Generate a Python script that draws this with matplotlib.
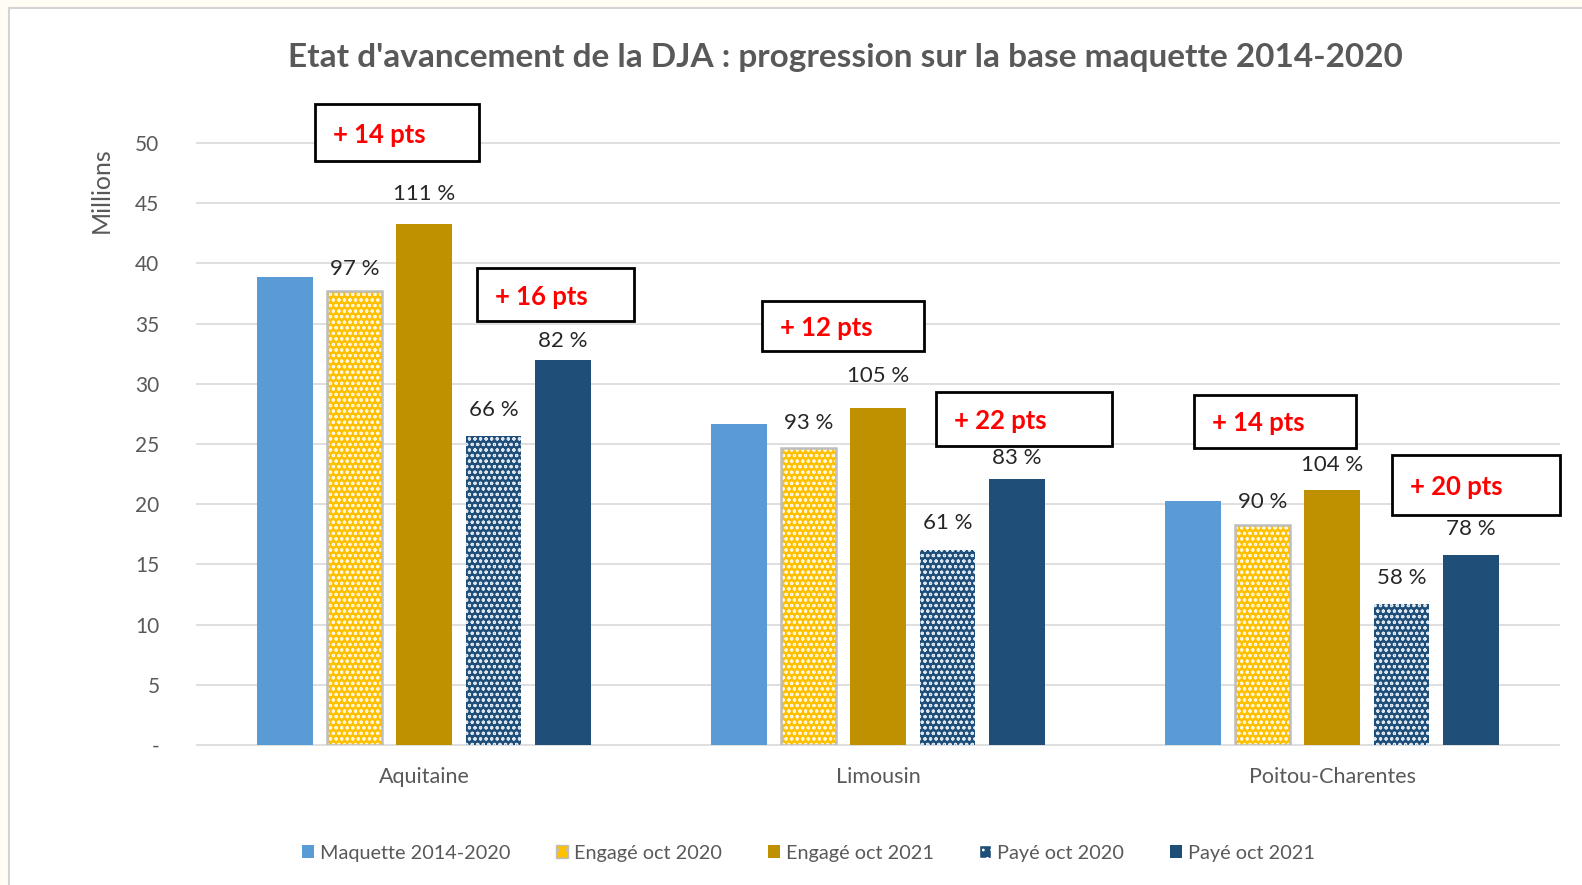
import matplotlib
matplotlib.use("Agg")
import matplotlib.pyplot as plt
import numpy as np
from matplotlib.patches import Rectangle, Patch

# data
regions = ["Aquitaine", "Limousin", "Poitou-Charentes"]
series = ["Maquette 2014-2020", "Engagé oct 2020", "Engagé oct 2021",
          "Payé oct 2020", "Payé oct 2021"]
maquette = [38.9, 26.7, 20.3]
engage_2020 = [37.7, 24.7, 18.3]
engage_2021 = [43.3, 28.0, 21.2]
paye_2020 = [25.7, 16.2, 11.7]
paye_2021 = [32.0, 22.1, 15.8]

pct_engage_2020 = ["97 %", "93 %", "90 %"]
pct_engage_2021 = ["111 %", "105 %", "104 %"]
pct_paye_2020 = ["66 %", "61 %", "58 %"]
pct_paye_2021 = ["82 %", "83 %", "78 %"]

pts_labels = ["+ 14 pts", "+ 16 pts", "+ 12 pts", "+ 22 pts", "+ 14 pts", "+ 20 pts"]
yticks = [0, 5, 10, 15, 20, 25, 30, 35, 40, 45, 50]
ytick_labels = ["-", "5", "10", "15", "20", "25", "30", "35", "40", "45", "50"]

# layout: label offsets above the bars (points), one per region
off_engage_2020 = [8.4, 10.6, 9.1]
off_engage_2021 = [14.2, 15.6, 10.6]
off_paye_2020 = [11.3, 12.0, 11.3]
off_paye_2021 = [6.3, 7.7, 11.3]

# layout of the "pts" boxes (x0, x1 in category units, y0, y1 in data units)
pts_boxes = [(-0.24, 0.122, 48.5, 53.2),
             (0.116, 0.462, 35.2, 39.6),
             (0.744, 1.102, 32.7, 36.9),
             (1.127, 1.516, 24.8, 29.3),
             (1.696, 2.053, 24.7, 29.1),
             (2.131, 2.502, 19.1, 24.1)]

plt.rcParams["font.family"] = ["Lato", "DejaVu Sans"]
plt.rcParams["hatch.linewidth"] = 0.8

fig = plt.figure(figsize=(15.82, 8.85), dpi=100, facecolor="#FFFCF4")
# white chart frame
fig.patches.append(Rectangle((9 / 1582, -0.1), 1.2, (885 - 8) / 885 + 0.1,
                             transform=fig.transFigure, facecolor="white",
                             edgecolor="#D4D4D4", linewidth=1.5, zorder=-5))

ax = fig.add_axes([0.1245, 0.1582, 0.861, 0.6802])
ax.set_zorder(2)
ax.set_facecolor("none")

x = np.arange(len(regions))
pitch = 0.153
width = 0.122
grey_txt = "#595959"

ax.bar(x - 2 * pitch, maquette, width, color="#5B9BD5", zorder=3)
ax.bar(x - pitch, engage_2020, width, color="#FFC000", edgecolor="#FFF6D8",
       hatch="ooo", linewidth=0, zorder=3)
ax.bar(x - pitch, engage_2020, width, fill=False, edgecolor="#BDBDBD",
       linewidth=1.8, zorder=4)
ax.bar(x, engage_2021, width, color="#BF9000", zorder=3)
ax.bar(x + pitch, paye_2020, width, color="#1F4E79", edgecolor="#DCE6F0",
       hatch="ooo", linewidth=0, zorder=3)
ax.bar(x + 2 * pitch, paye_2021, width, color="#1F4E79", zorder=3)

# percentage labels
for off, vals, labs, offs in [(-pitch, engage_2020, pct_engage_2020, off_engage_2020),
                              (0, engage_2021, pct_engage_2021, off_engage_2021),
                              (pitch, paye_2020, pct_paye_2020, off_paye_2020),
                              (2 * pitch, paye_2021, pct_paye_2021, off_paye_2021)]:
    for xi, v, lab, dy in zip(x, vals, labs, offs):
        ax.annotate(lab, (xi + off, v), xytext=(0, dy), textcoords="offset points",
                    ha="center", va="bottom", fontsize=16, color="#262626")

# "pts" boxes
for (x0, x1, y0, y1), lab in zip(pts_boxes, pts_labels):
    ax.add_patch(Rectangle((x0, y0), x1 - x0, y1 - y0, facecolor="white",
                           edgecolor="black", linewidth=2, zorder=5, clip_on=False))
    ax.text(x0 + 0.04, (y0 + y1) / 2 - 0.15, lab, ha="left", va="center", fontsize=18.5,
            fontweight="bold", color="#FF0000", zorder=6, clip_on=False)

ax.set_xlim(-0.5, 2.5)
ax.set_ylim(0, 50)
ax.set_yticks(yticks)
ax.set_yticklabels(ytick_labels)
ax.set_xticks(x)
ax.set_xticklabels(regions)
ax.tick_params(axis="both", length=0, labelcolor=grey_txt)
ax.tick_params(axis="y", pad=27, labelsize=15)
ax.tick_params(axis="x", pad=16, labelsize=15.5)
ax.grid(axis="y", color="#D9D9D9", linewidth=1.2, zorder=0, clip_on=False)
for s in ax.spines.values():
    s.set_visible(False)

fig.text(101 / 1582, 1 - 190 / 885, "Millions", rotation=90, ha="center", va="center",
         fontsize=18, color=grey_txt)

fig.text(0.5 + 0.0345, 1 - 57 / 885, "Etat d'avancement de la DJA : progression sur la base maquette 2014-2020",
         ha="center", va="center", fontsize=24, fontweight="bold", color="#595959")

handles = [Patch(facecolor="#5B9BD5"),
           Patch(facecolor="#FFC000", edgecolor="#BDBDBD", hatch=".."),
           Patch(facecolor="#BF9000"),
           Patch(facecolor="#1F4E79", edgecolor="white", hatch=".."),
           Patch(facecolor="#1F4E79")]
fig.legend(handles, series, loc="center", bbox_to_anchor=(0.511, 1 - 853 / 885),
           ncol=5, frameon=False, fontsize=14.3, labelcolor=grey_txt,
           handlelength=0.6, handleheight=0.6, handletextpad=0.3, columnspacing=2.3)

fig.savefig("out.png", dpi=100, facecolor=fig.get_facecolor())
